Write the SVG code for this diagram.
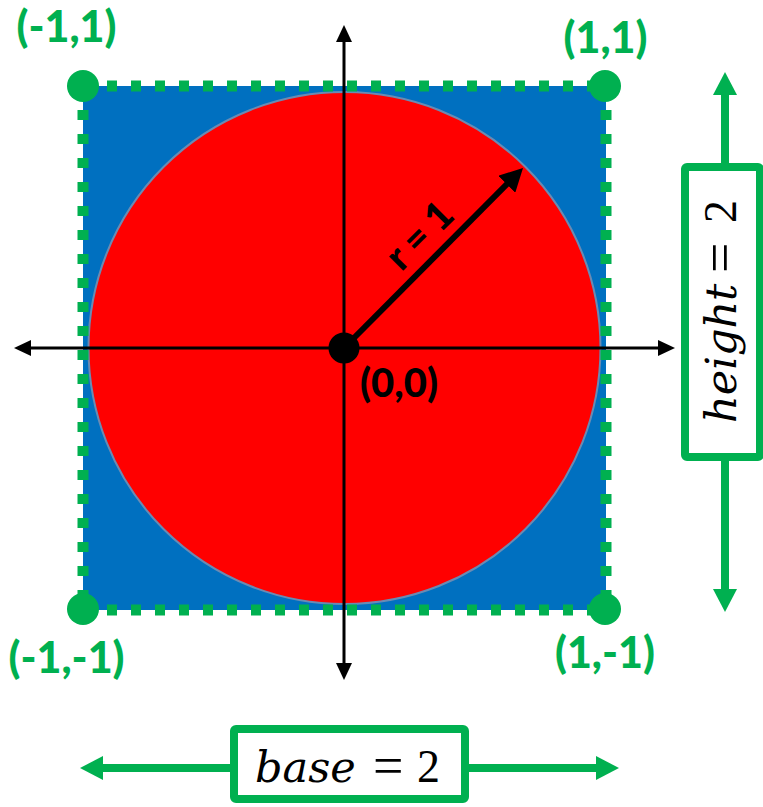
<svg xmlns="http://www.w3.org/2000/svg" width="763" height="807" viewBox="0 0 763 807">
  <style>
    .lbl { font-family: Lato, "Open Sans", "Liberation Sans", sans-serif; font-weight: 900; }
    .green { fill: #00B050; }
    .mathi { font-family: "DejaVu Serif", "Liberation Serif", serif; font-style: italic; font-size: 43px; fill: #000; }
    .mathr { font-family: "Liberation Serif", "DejaVu Serif", serif; font-size: 46px; fill: #000; }
    .matheq { font-family: "Liberation Serif", "DejaVu Serif", serif; font-size: 54px; fill: #000; }
    .edge { stroke: #00B050; stroke-width: 11; stroke-dasharray: 10 14; fill: none; }
    .corner { fill: #00B050; }
    .axis { stroke: #000; stroke-width: 3; fill: none; }
    .garrow { stroke: #00B050; stroke-width: 8; fill: none; }
    .box { fill: #fff; stroke: #00B050; stroke-width: 8; }
  </style>
  <defs>
    <marker id="axhead" markerUnits="userSpaceOnUse" markerWidth="17" markerHeight="16" viewBox="0 0 17 16" refX="5" refY="8" orient="auto-start-reverse">
      <path d="M0,0 L17,8 L0,16 z" fill="#000"/>
    </marker>
    <marker id="radhead" markerUnits="userSpaceOnUse" markerWidth="23" markerHeight="24" viewBox="0 0 23 24" refX="8" refY="12" orient="auto">
      <path d="M0,0 L23,12 L0,24 z" fill="#000"/>
    </marker>
    <marker id="ghead" markerUnits="userSpaceOnUse" markerWidth="23" markerHeight="24" viewBox="0 0 23 24" refX="8" refY="12" orient="auto-start-reverse">
      <path d="M0,0 L23,12 L0,24 z" fill="#00B050"/>
    </marker>
  </defs>

  <g id="square">
    <rect x="83" y="86" width="523" height="524" fill="#0070C0"/>
  </g>
  <g id="circle">
    <circle cx="344.5" cy="348" r="256" fill="#FF0000" stroke="#6a8bb3" stroke-width="2"/>
  </g>
  <g id="square-edges">
    <line class="edge" x1="83" y1="86" x2="606" y2="86"/>
    <line class="edge" x1="606" y1="86" x2="606" y2="610"/>
    <line class="edge" x1="83" y1="610" x2="606" y2="610"/>
    <line class="edge" x1="83" y1="86" x2="83" y2="610"/>
  </g>

  <g id="connectors">
    <line class="axis" x1="26" y1="348" x2="663" y2="348" marker-start="url(#axhead)" marker-end="url(#axhead)"/>
    <line class="axis" x1="344" y1="37" x2="344" y2="668" marker-start="url(#axhead)" marker-end="url(#axhead)"/>
    <line stroke="#000" stroke-width="6" x1="344" y1="348" x2="512.4" y2="178.6" marker-end="url(#radhead)"/>
    <line class="garrow" x1="725" y1="87" x2="725" y2="597" marker-start="url(#ghead)" marker-end="url(#ghead)"/>
    <line class="garrow" x1="95" y1="768" x2="604" y2="768" marker-start="url(#ghead)" marker-end="url(#ghead)"/>
  </g>

  <g id="corner-tl">
    <circle class="corner" cx="83" cy="86" r="16"/>
    <text class="lbl green" x="66.5" y="42" font-size="43" text-anchor="middle">(-1,1)</text>
  </g>
  <g id="corner-tr">
    <circle class="corner" cx="605" cy="86" r="16"/>
    <text class="lbl green" x="605.5" y="53" font-size="43" text-anchor="middle">(1,1)</text>
  </g>
  <g id="corner-bl">
    <circle class="corner" cx="83" cy="609" r="16"/>
    <text class="lbl green" x="66.5" y="673" font-size="43" text-anchor="middle">(-1,-1)</text>
  </g>
  <g id="corner-br">
    <circle class="corner" cx="605" cy="609" r="16"/>
    <text class="lbl green" x="605" y="668" font-size="43" text-anchor="middle">(1,-1)</text>
  </g>

  <g id="origin">
    <circle cx="344" cy="348" r="15.5" fill="#000"/>
    <text class="lbl" x="399" y="397" font-size="40" text-anchor="middle" fill="#000">(0,0)</text>
  </g>
  <g id="radius-label" transform="translate(419,235) rotate(-45)">
    <text class="lbl" x="0" y="14" font-size="39" text-anchor="middle" fill="#000">r = 1</text>
  </g>

  <g id="height-box">
    <rect class="box" x="685" y="167" width="75" height="290" rx="2"/>
    <text class="mathi" transform="rotate(-90 736 423)" x="736" y="423">height</text>
    <text class="matheq" transform="rotate(-90 738 273)" x="738" y="273">=</text>
    <text class="mathr" transform="rotate(-90 736 223)" x="736" y="223">2</text>
  </g>
  <g id="base-box">
    <rect class="box" x="234" y="729" width="231" height="70" rx="2"/>
    <text class="mathi" x="255" y="782">base</text>
    <text class="matheq" x="373" y="784">=</text>
    <text class="mathr" x="417" y="782">2</text>
  </g>
</svg>
